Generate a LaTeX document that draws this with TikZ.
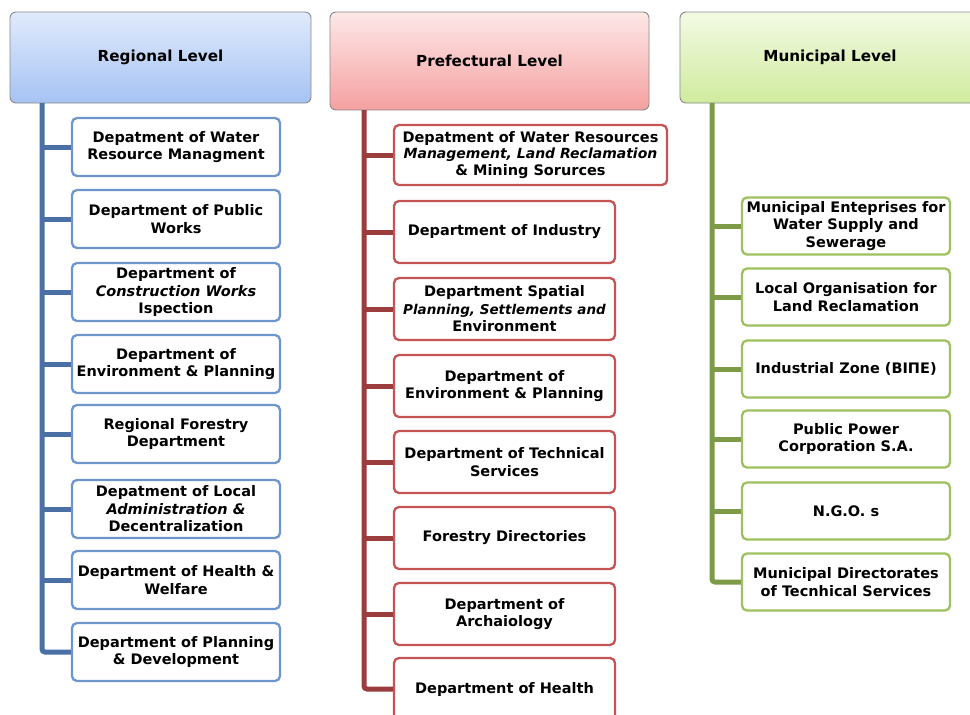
\documentclass[tikz,border=0pt]{standalone}
\usepackage{fontspec}
\setmainfont{DejaVu Sans}
\definecolor{bTrunk}{HTML}{4A70A6}
\definecolor{bBord}{HTML}{6F96CC}
\definecolor{rTrunk}{HTML}{9B3D3D}
\definecolor{rBord}{HTML}{C65454}
\definecolor{gTrunk}{HTML}{7D9A47}
\definecolor{gBord}{HTML}{9DC25C}
\definecolor{hBord}{HTML}{8A8A8A}
\begin{document}
\begin{tikzpicture}[x=1pt,y=-1pt,
  hdr/.style={draw=hBord, line width=0.9pt, rounded corners=6pt, inner sep=0pt,
    font=\bfseries\fontsize{15.2}{18}\selectfont},
  box/.style={draw, fill=white, line width=2.3pt, rounded corners=5pt, align=center,
    inner sep=0pt, font=\bfseries\fontsize{14.5}{17.5}\selectfont},
  bbox/.style={box, draw=bBord, minimum width=208pt, minimum height=58pt},
  rbox/.style={box, draw=rBord, minimum width=221pt, minimum height=62pt},
  gbox/.style={box, draw=gBord, minimum width=208pt, minimum height=57pt},
  trunk/.style={line width=5pt}]
\clip (0,0) rectangle (970,715);
\fill[white] (0,0) rectangle (970,715);

% headers
\node[hdr, top color={rgb,255:red,224;green,234;blue,252}, bottom color={rgb,255:red,166;green,195;blue,243},
  minimum width=301pt, minimum height=91pt] (hR) at (160.5,57.5) {Regional Level};
\node[hdr, top color={rgb,255:red,253;green,232;blue,232}, bottom color={rgb,255:red,245;green,160;blue,160},
  minimum width=319pt, minimum height=98pt] (hP) at (489.5,61) {Prefectural Level};
\node[hdr, top color={rgb,255:red,243;green,250;blue,228}, bottom color={rgb,255:red,208;green,235;blue,158},
  minimum width=300pt, minimum height=91pt] (hM) at (830,57.5) {Municipal Level};

% regional column
\coordinate (tR) at (42,103);
\node[bbox] (r1) at (176,147) {Depatment of Water\\Resource Managment};
\node[bbox] (r2) at (176,219) {Department of Public\\Works};
\node[bbox] (r3) at (176,292) {Department of\\{\itshape Construction Works}\\Ispection};
\node[bbox] (r4) at (176,364) {Department of\\Environment \& Planning};
\node[bbox] (r5) at (176,434) {Regional Forestry\\Department};
\node[bbox] (r6) at (176,509) {Depatment of Local\\{\itshape Administration \&}\\Decentralization};
\node[bbox] (r7) at (176,580) {Department of Health \&\\Welfare};
\node[bbox] (r8) at (176,652) {Department of Planning\\\& Development};
\draw[trunk, bTrunk, rounded corners=3pt] (tR) |- (r8.west);
\foreach \n in {r1,r2,r3,r4,r5,r6,r7}
  \draw[trunk, bTrunk] (\n.west -| tR) -- (\n.west);

% prefectural column
\coordinate (tP) at (364,110);
\node[box, draw=rBord, minimum width=273pt, minimum height=60pt,
  font=\bfseries\fontsize{14.5}{16.5}\selectfont] (p1) at (530.5,155)
  {Depatment of Water Resources\\{\itshape\fontsize{14}{16.5}\selectfont Management, Land Reclamation}\\\& Mining Sorurces};
\node[rbox] (p2) at (504.5,232) {Department of Industry};
\node[rbox] (p3) at (504.5,309) {Department Spatial\\{\itshape\fontsize{13.5}{17.5}\selectfont Planning, Settlements and}\\Environment};
\node[rbox] (p4) at (504.5,386) {Department of\\Environment \& Planning};
\node[rbox] (p5) at (504.5,462) {Department of Technical\\Services};
\node[rbox] (p6) at (504.5,538) {Forestry Directories};
\node[rbox] (p7) at (504.5,614) {Department of\\Archaiology};
\node[rbox] (p8) at (504.5,689) {Department of Health};
\draw[trunk, rTrunk, rounded corners=3pt] (tP) |- (p8.west);
\foreach \n in {p1,p2,p3,p4,p5,p6,p7}
  \draw[trunk, rTrunk] (\n.west -| tP) -- (\n.west);

% municipal column
\coordinate (tM) at (712,103);
\node[gbox] (m1) at (846,226) {Municipal Enteprises for\\Water Supply and\\Sewerage};
\node[gbox] (m2) at (846,297) {Local Organisation for\\Land Reclamation};
\node[gbox] (m3) at (846,369) {Industrial Zone (ΒΙΠΕ)};
\node[gbox] (m4) at (846,439) {Public Power\\Corporation S.A.};
\node[gbox] (m5) at (846,511) {N.G.O. s};
\node[gbox] (m6) at (846,582) {Municipal Directorates\\of Tecnhical Services};
\draw[trunk, gTrunk, rounded corners=3pt] (tM) |- (m6.west);
\foreach \n in {m1,m2,m3,m4,m5}
  \draw[trunk, gTrunk] (\n.west -| tM) -- (\n.west);
\end{tikzpicture}
\end{document}
